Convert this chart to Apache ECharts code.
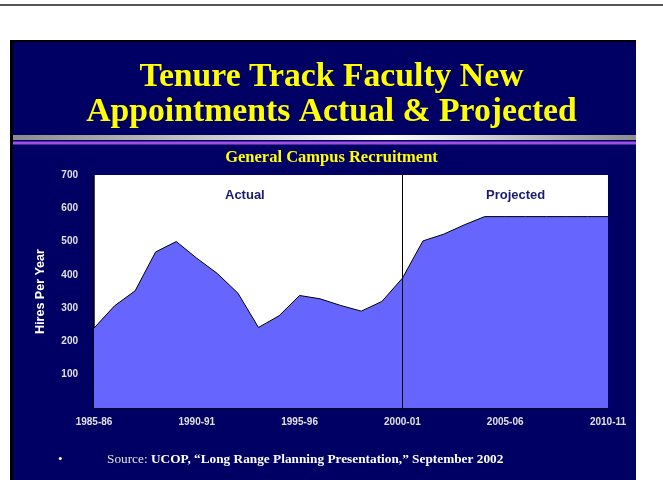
<!DOCTYPE html>
<html>
<head>
<meta charset="utf-8">
<script src="https://cdn.jsdelivr.net/npm/echarts@6/dist/echarts.min.js"></script>
<style>
  html, body { margin: 0; padding: 0; background: #fff; }
  #chart { width: 663px; height: 480px; }
</style>
</head>
<body>
<div id="chart"></div>
<script>
    // fiscal years on the x axis
    var years = ['1985-86', '1986-87', '1987-88', '1988-89', '1989-90', '1990-91', '1991-92',
        '1992-93', '1993-94', '1994-95', '1995-96', '1996-97', '1997-98', '1998-99', '1999-00',
        '2000-01', '2001-02', '2002-03', '2003-04', '2004-05', '2005-06', '2006-07', '2007-08',
        '2008-09', '2009-10', '2010-11'];
    // hires per year, actual up to 2000-01 then projected
    var hires = [240, 307, 352, 469, 500, 450, 404, 345, 242, 277, 338, 328, 308,
        291, 320, 390, 502, 522, 550, 575, 575, 575, 575, 575, 575, 575];
    var splitYear = '2000-01';

    var navy = '#000064';
    var chart = echarts.init(document.getElementById('chart'));
    chart.setOption({
        backgroundColor: '#fff',
        animation: false,
        title: [
            {
                text: 'Tenure Track Faculty New\nAppointments Actual & Projected',
                left: 'center',
                top: 60,
                padding: 0,
                textStyle: {
                    fontFamily: 'Liberation Serif',
                    fontWeight: 'bold',
                    fontSize: 33.7,
                    lineHeight: 35,
                    color: '#ffff00'
                }
            },
            {
                text: 'General Campus Recruitment',
                left: 'center',
                top: 149,
                padding: 0,
                textStyle: {
                    fontFamily: 'Liberation Serif',
                    fontWeight: 'bold',
                    fontSize: 16.5,
                    lineHeight: 18,
                    color: '#ffff00'
                }
            }
        ],
        graphic: [
            { type: 'rect', z: -10, shape: { x: 0, y: 4, width: 663, height: 2 }, style: { fill: '#555' } },
            { type: 'rect', z: -10, shape: { x: 10, y: 40, width: 626, height: 440 }, style: { fill: '#000' } },
            { type: 'rect', z: -9, shape: { x: 13, y: 42, width: 623, height: 438 }, style: { fill: navy } },
            {
                type: 'rect', z: -8, shape: { x: 13, y: 135, width: 623, height: 5 },
                style: {
                    fill: new echarts.graphic.LinearGradient(0, 0, 1, 0, [
                        { offset: 0, color: '#8c8c8c' },
                        { offset: 0.6, color: '#ffffff' },
                        { offset: 1, color: '#8c8c8c' }
                    ])
                }
            },
            { type: 'rect', z: -8, shape: { x: 13, y: 141.5, width: 623, height: 3 }, style: { fill: '#a050e0' } },
            {
                type: 'text', z: 100, left: 225, top: 189,
                style: {
                    text: 'Actual',
                    fontFamily: 'Liberation Sans', fontWeight: 'bold', fontSize: 13,
                    fill: '#1a1a6e'
                }
            },
            {
                type: 'text', z: 100, left: 486, top: 189,
                style: {
                    text: 'Projected',
                    fontFamily: 'Liberation Sans', fontWeight: 'bold', fontSize: 13,
                    fill: '#1a1a6e'
                }
            },
            {
                type: 'text', z: 100, left: 58, top: 453,
                style: { text: '•', fontFamily: 'Liberation Serif', fontSize: 13, fill: '#fff' }
            },
            {
                type: 'text', z: 100, left: 107, top: 453,
                style: {
                    text: '{a|Source: }{b|UCOP, \u201cLong Range Planning Presentation,\u201d September 2002}',
                    rich: {
                        a: { fontFamily: 'Liberation Serif', fontSize: 13.3, fill: '#e0e0e0' },
                        b: { fontFamily: 'Liberation Serif', fontWeight: 'bold', fontSize: 13.3, fill: '#ffffff' }
                    }
                }
            }
        ],
        grid: {
            left: 94,
            right: 55,
            top: 175,
            bottom: 72,
            show: true,
            backgroundColor: '#fff',
            borderWidth: 0
        },
        xAxis: {
            type: 'category',
            boundaryGap: false,
            data: years,
            axisLine: { lineStyle: { color: '#000', width: 1.5 } },
            axisTick: { show: false },
            axisLabel: {
                interval: 4,
                margin: 9,
                color: '#e0e0e0',
                fontFamily: 'Liberation Sans',
                fontWeight: 'bold',
                fontSize: 10
            },
            splitLine: { show: false }
        },
        yAxis: {
            type: 'value',
            min: 0,
            max: 700,
            interval: 100,
            name: 'Hires Per Year',
            nameLocation: 'middle',
            nameRotate: 90,
            nameGap: 47,
            nameTextStyle: {
                color: '#fff',
                fontFamily: 'Liberation Sans',
                fontWeight: 'bold',
                fontSize: 12.5
            },
            axisLine: { show: true, lineStyle: { color: '#000', width: 1.5 } },
            axisTick: { show: false },
            axisLabel: {
                margin: 16,
                color: '#e0e0e0',
                fontFamily: 'Liberation Sans',
                fontWeight: 'bold',
                fontSize: 10,
                formatter: function (v) { return v === 0 ? '' : v; }
            },
            splitLine: { show: false }
        },
        series: [
            {
                name: 'Hires',
                type: 'line',
                data: hires,
                symbol: 'none',
                lineStyle: { color: '#000', width: 1 },
                areaStyle: { color: '#6666ff', opacity: 1 },
                markLine: {
                    silent: true,
                    symbol: 'none',
                    label: { show: false },
                    lineStyle: { color: '#000', type: 'solid', width: 1 },
                    data: [{ xAxis: splitYear }]
                }
            }
        ]
    });
</script>
</body>
</html>
